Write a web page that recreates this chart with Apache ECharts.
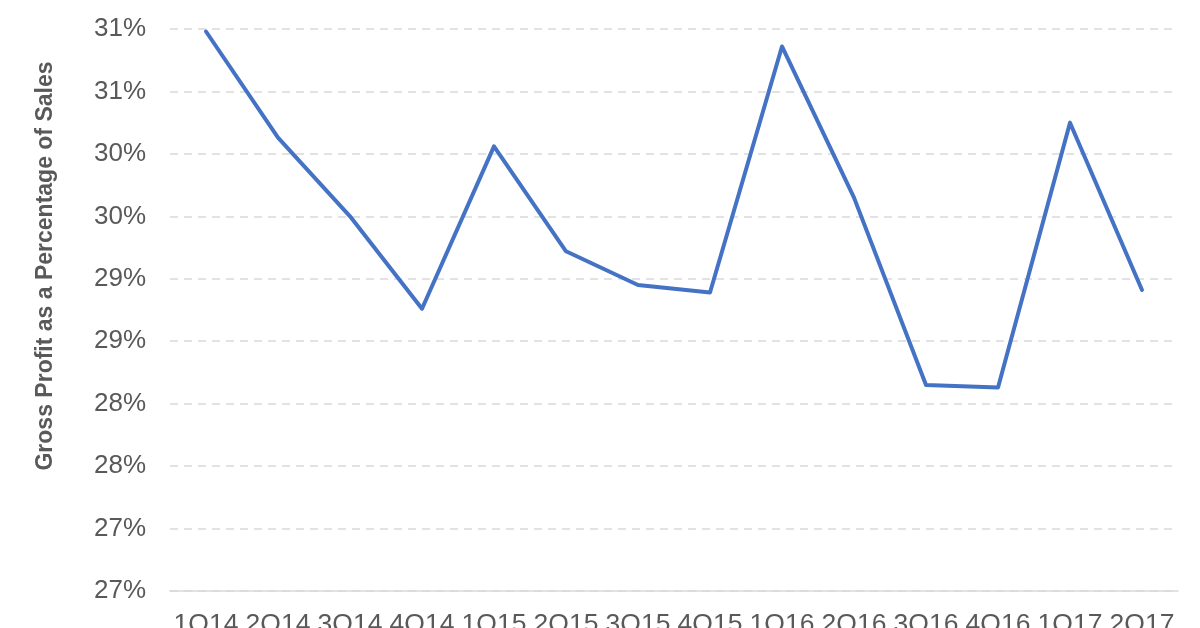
<!DOCTYPE html>
<html>
<head>
<meta charset="utf-8">
<script src="https://cdn.jsdelivr.net/npm/echarts@6/dist/echarts.min.js"></script>
<style>
html,body{margin:0;padding:0;background:#fff;}
#chart{width:1200px;height:628px;}
</style>
</head>
<body>
<div id="chart"></div>
<script>
const categories = ['1Q14','2Q14','3Q14','4Q14','1Q15','2Q15','3Q15','4Q15','1Q16','2Q16','3Q16','4Q16','1Q17','2Q17'];
const grossMargin = [30.98, 30.13, 29.50, 28.76, 30.06, 29.22, 28.95, 28.89, 30.86, 29.65, 28.15, 28.13, 30.25, 28.91];
const yTitle = 'Gross Profit as a Percentage of Sales';
const yMin = 26.5, yMax = 31.0, yStep = 0.5;

const chart = echarts.init(document.getElementById('chart'), null, {renderer:'canvas'});
chart.setOption({
  animation:false,
  backgroundColor:'#ffffff',
  grid:{left:170, right:22, top:29, bottom:37, containLabel:false, outerBoundsMode:'none'},
  xAxis:{
    type:'category',
    data:categories,
    boundaryGap:true,
    axisLine:{show:true, lineStyle:{color:'#d9d9d9', width:1.5}},
    axisTick:{show:false},
    axisLabel:{color:'#595959', fontSize:26.5, fontFamily:'Liberation Sans, Arial, sans-serif', margin:20, interval:0}
  },
  yAxis:{
    type:'value',
    min:yMin, max:yMax, interval:yStep,
    axisLine:{show:false},
    axisTick:{show:false},
    splitLine:{show:true, lineStyle:{color:'#d9d9d9', type:[8,6], width:1.5}},
    axisLabel:{
      color:'#595959', fontSize:26, fontFamily:'Liberation Sans, Arial, sans-serif', margin:24,
      formatter:function(v){ return Math.round(v) + '%'; },
      showMinLabel:true, showMaxLabel:true
    }
  },
  graphic:[{
    type:'text',
    x:46, y:266,
    rotation:Math.PI/2,
    style:{
      text:yTitle,
      fill:'#595959',
      font:'bold 23px "Liberation Sans", Arial, sans-serif',
      align:'center',
      verticalAlign:'middle'
    }
  }],
  series:[{
    type:'line',
    data:grossMargin,
    showSymbol:false,
    symbol:'none',
    lineStyle:{color:'#4472C4', width:4, cap:'round', join:'round'}
  }]
});
</script>
</body>
</html>
